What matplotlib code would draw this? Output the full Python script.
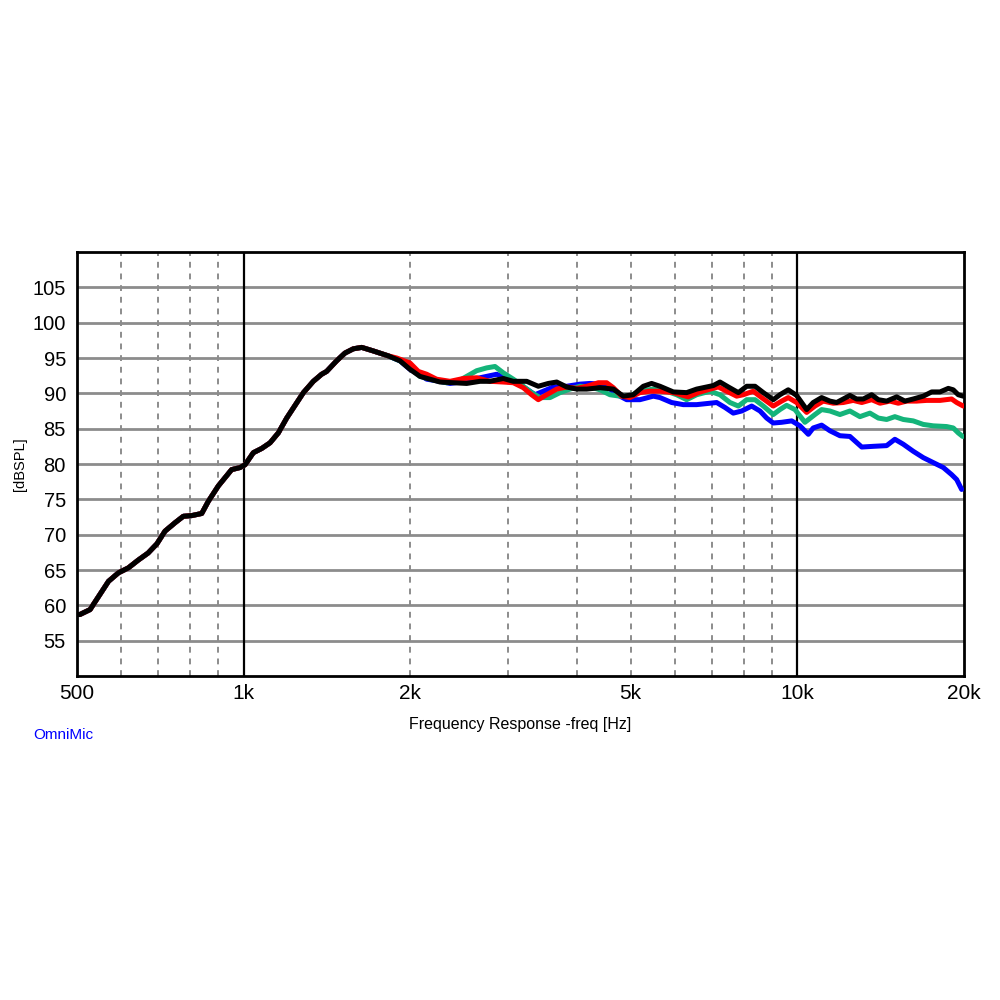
import matplotlib
matplotlib.use("Agg")
import matplotlib.pyplot as plt
import numpy as np

# shared part of all four curves (they overlap below ~1.8 kHz)
freq_common = [500, 506, 528, 535, 570, 594, 619, 645, 672, 697, 721, 752, 778, 806,
               840, 863, 900, 951, 985, 1006, 1041, 1078, 1116, 1155, 1196, 1282,
               1336, 1383, 1412, 1472, 1524, 1578, 1634, 1714, 1825]
db_common = [58.7, 58.7, 59.4, 60.1, 63.4, 64.6, 65.3, 66.4, 67.4, 68.7, 70.5, 71.7, 72.6, 72.7,
             73.0, 74.7, 76.9, 79.2, 79.5, 79.9, 81.6, 82.2, 83.0, 84.4, 86.5, 90.1,
             91.7, 92.7, 93.1, 94.6, 95.7, 96.3, 96.5, 96.0, 95.3]

freq_black = [1916, 1997, 2082, 2170, 2263, 2391, 2528, 2672, 2785, 2944, 3069, 3245, 3405,
              3550, 3676, 3832, 3995, 4165, 4402, 4652, 4850, 5054, 5270, 5455, 5648, 5807,
              5970, 6310, 6578, 6858, 7050, 7249, 7506, 7825, 8102, 8387, 8682, 9047, 9301,
              9628, 9970, 10396, 10683, 11064, 11453, 11775, 12105, 12444, 12795, 13155,
              13624, 14005, 14499, 15116, 15646, 16194, 16884, 17487, 18102, 18736, 19125,
              19528, 19937]
db_black = [94.6, 93.4, 92.4, 92.0, 91.6, 91.5, 91.4, 91.7, 91.7, 92.1, 91.7, 91.7, 91.0,
            91.4, 91.6, 90.9, 90.6, 90.6, 90.8, 90.6, 89.6, 89.8, 91.0, 91.4, 91.0, 90.6,
            90.2, 90.1, 90.6, 90.9, 91.1, 91.6, 90.9, 90.1, 91.0, 91.0, 90.1, 89.1, 89.8,
            90.5, 89.7, 87.7, 88.7, 89.4, 88.9, 88.7, 89.2, 89.7, 89.2, 89.2,
            89.8, 89.1, 88.9, 89.5, 88.9, 89.2, 89.6, 90.2, 90.2, 90.7, 90.5,
            89.8, 89.6]

freq_red = [1890, 1997, 2068, 2141, 2231, 2359, 2493, 2635, 2785, 2944, 3069, 3199, 3312,
            3405, 3526, 3676, 3832, 3995, 4165, 4371, 4525, 4652, 4816, 4985, 5196, 5418,
            5648, 5970, 6353, 6623, 6955, 7200, 7455, 7770, 7985, 8325, 8619, 9047, 9368,
            9628, 9970, 10396, 10760, 11141, 11610, 12105, 12617, 13072, 13624, 14104,
            14699, 15216, 15754, 16424, 17122, 18102, 18996, 19400, 19937]
db_red = [95.0, 94.3, 93.1, 92.7, 92.0, 91.7, 92.1, 92.2, 91.7, 91.6, 91.5, 90.8, 89.8,
          89.1, 89.8, 90.6, 90.9, 90.7, 91.0, 91.5, 91.5, 90.8, 89.6, 89.4, 90.1, 90.3,
          90.3, 90.1, 89.5, 90.1, 90.6, 90.9, 90.3, 89.6, 89.8, 90.3, 89.4, 88.2, 88.9,
          89.4, 88.7, 87.3, 88.2, 88.9, 88.6, 88.7, 89.0, 88.7, 89.1, 88.6,
          88.9, 88.6, 88.9, 88.9, 89.0, 89.0, 89.2, 88.7, 88.2]

freq_green = [1916, 1997, 2082, 2200, 2326, 2425, 2528, 2635, 2747, 2844, 2944, 3069, 3199,
              3312, 3430, 3575, 3727, 3885, 4050, 4222, 4402, 4588, 4783, 4985, 5196, 5494,
              5807, 6054, 6310, 6578, 6955, 7249, 7557, 7825, 8102, 8387, 8682, 9047, 9301,
              9563, 9902, 10321, 10760, 11064, 11453, 11939, 12444, 12973, 13525, 14005,
              14499, 15003, 15536, 16194, 16884, 17598, 18604, 19125, 19528, 19890]
db_green = [94.6, 93.6, 92.4, 91.9, 91.5, 91.6, 92.4, 93.2, 93.6, 93.8, 92.9, 92.0, 91.0,
            90.1, 89.4, 89.4, 90.1, 90.6, 91.0, 90.9, 90.5, 89.8, 89.6, 89.6, 90.3, 90.6,
            90.3, 89.8, 89.1, 89.8, 90.3, 89.8, 88.7, 88.2, 89.1, 89.1, 88.2, 87.0, 87.7,
            88.3, 87.7, 85.9, 87.0, 87.7, 87.5, 87.0, 87.5, 86.7, 87.2, 86.5,
            86.3, 86.7, 86.3, 86.1, 85.6, 85.4, 85.3, 85.1, 84.4, 83.9]

freq_blue = [1916, 1997, 2082, 2141, 2263, 2359, 2459, 2598, 2747, 2864, 2985, 3112, 3245,
             3359, 3477, 3624, 3832, 4050, 4222, 4402, 4588, 4783, 4917, 5196, 5494, 5648,
             5929, 6223, 6578, 7149, 7401, 7662, 7934, 8271, 8562, 8803, 9047, 9368, 9768,
             10111, 10467, 10683, 11064, 11453, 11939, 12444, 13072, 13712, 14499, 15003,
             15536, 16194, 16884, 17598, 18351, 18996, 19400, 19806]
db_blue = [94.6, 93.4, 92.6, 92.0, 91.7, 91.4, 91.6, 92.0, 92.4, 92.7, 92.1, 91.5, 90.6,
           89.8, 90.3, 90.9, 91.0, 91.3, 91.4, 91.3, 90.6, 89.6, 89.1, 89.1, 89.6, 89.4,
           88.7, 88.4, 88.4, 88.7, 88.0, 87.2, 87.5, 88.2, 87.5, 86.5, 85.8, 85.9, 86.1,
           85.4, 84.2, 85.1, 85.5, 84.7, 84.0, 83.9, 82.4, 82.5, 82.6, 83.5,
           82.8, 81.8, 80.9, 80.2, 79.5, 78.5, 77.8, 76.4]

series = [
    (freq_blue, db_blue, "#0000ff"),
    (freq_green, db_green, "#14b47a"),
    (freq_red, db_red, "#ff0000"),
    (freq_black, db_black, "#000000"),
]

x_ticks = [500, 1000, 2000, 5000, 10000, 20000]
x_labels = ["500", "1k", "2k", "5k", "10k", "20k"]
y_ticks = [55, 60, 65, 70, 75, 80, 85, 90, 95, 100, 105]
minor_freqs = [600, 700, 800, 900, 2000, 3000, 4000, 5000, 6000, 7000, 8000, 9000]

plt.rcParams["font.family"] = ["Liberation Sans", "DejaVu Sans"]

fig = plt.figure(figsize=(10, 10), dpi=100)
ax = fig.add_axes([0.077, 0.324, 0.887, 0.424])

ax.set_xscale("log")
ax.set_xlim(500, 20000)
ax.set_ylim(50, 110)

# grid
for y in y_ticks:
    ax.axhline(y, color="#8c8c8c", lw=2, zorder=1)
for f in minor_freqs:
    ax.axvline(f, color="#8c8c8c", lw=1.4, ls=(0, (3, 3)), zorder=1)
for f in [1000, 10000]:
    ax.axvline(f, color="black", lw=1.6, zorder=2)

for fr, db, col in series:
    ax.plot(freq_common + fr, db_common + db, color=col, lw=3.6,
            solid_joinstyle="round", solid_capstyle="round", zorder=3)

ax.set_xticks(x_ticks)
ax.set_xticklabels(x_labels, fontsize=15)
ax.minorticks_off()
ax.set_xticks([], minor=True)
ax.set_yticks(y_ticks)
ax.set_yticklabels([str(v) for v in y_ticks], fontsize=14.5)
ax.tick_params(length=0, pad=6)
ax.tick_params(axis="y", pad=8)

for s in ax.spines.values():
    s.set_linewidth(2)
    s.set_color("black")

ax.set_xlabel("Frequency Response -freq [Hz]", fontsize=11.5, labelpad=10)
ax.set_ylabel("[dBSPL]", fontsize=10.5, labelpad=4)

omni = fig.text(0.033, 0.265, "OmniMic", color="#0000ff", fontsize=11,
                fontstretch="condensed", ha="left", va="center")

fig.savefig("out.png", dpi=100, facecolor="white")
